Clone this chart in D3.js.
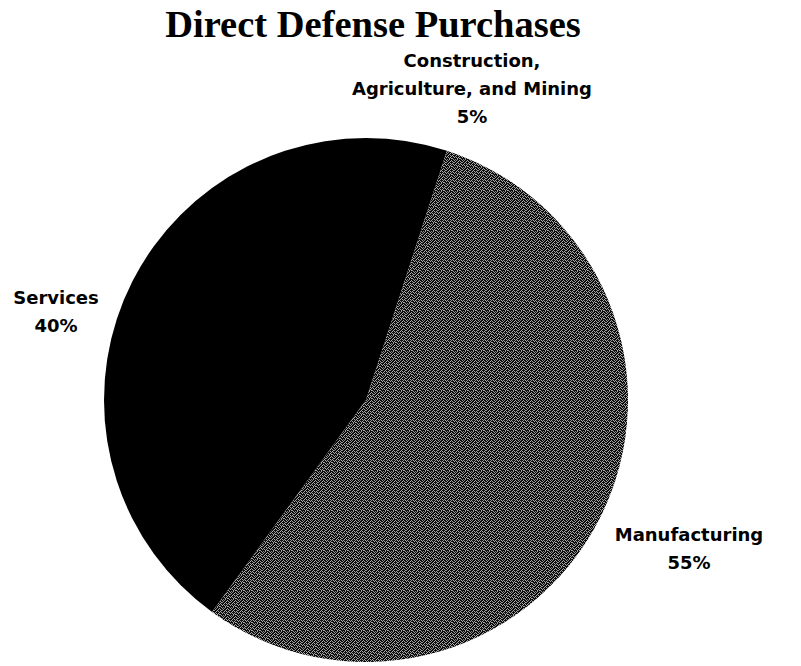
<!DOCTYPE html>
<html>
<head>
<meta charset="utf-8">
<script src="https://cdn.jsdelivr.net/npm/d3@7"></script>
<style>
  html, body { margin: 0; padding: 0; background: #fff; }
  svg { display: block; }
</style>
</head>
<body>
<svg id="chart" width="801" height="666"></svg>
<script>
// ---- data ----
const categories = ["Construction, Agriculture, and Mining", "Manufacturing", "Services"];
const values = [5, 55, 40];
const labelLines = [
  ["Construction,", "Agriculture, and Mining", "5%"],
  ["Manufacturing", "55%"],
  ["Services", "40%"]
];
const title = "Direct Defense Purchases";

// ---- layout ----
const svg = d3.select("#chart");
const cx = 366, cy = 400, r = 262;

// dithered grey texture (style only)
const tile = [
  "10100100",
  "01001010",
  "10010001",
  "00101010",
  "01000101",
  "10101000",
  "00010110",
  "01010001"
];
const defs = svg.append("defs");
const pat = defs.append("pattern")
  .attr("id", "dither")
  .attr("patternUnits", "userSpaceOnUse")
  .attr("width", 8).attr("height", 8);
pat.append("rect").attr("width", 8).attr("height", 8).attr("fill", "#0c0c0c");
const tones = ["#9a9a9a", "#b0b0b0", "#828282", "#a4a4a4"];
tile.forEach((row, y) => row.split("").forEach((c, x) => {
  if (c === "1") pat.append("rect").attr("x", x).attr("y", y)
    .attr("width", 1).attr("height", 1)
    .attr("fill", tones[(x * 3 + y) % tones.length]);
}));

const fills = d3.scaleOrdinal()
  .domain(categories)
  .range(["#000", "url(#dither)", "#000"]);

const pie = d3.pie().sort(null).value(d => d)(values);
const arc = d3.arc().innerRadius(0).outerRadius(r);

const g = svg.append("g").attr("transform", `translate(${cx},${cy})`);
g.selectAll("path")
  .data(pie)
  .join("path")
  .attr("d", arc)
  .attr("fill", (d, i) => fills(categories[i]));

// title
svg.append("text")
  .attr("x", 373).attr("y", 37)
  .attr("text-anchor", "middle")
  .attr("font-family", "'Liberation Serif', 'Times New Roman', serif")
  .attr("font-weight", "bold")
  .attr("font-size", 38.5)
  .text(title);

// labels
const labelPos = [
  { x: 472, y: 67 },
  { x: 689, y: 541 },
  { x: 56, y: 304 }
];
const lineH = 28;
labelLines.forEach((lines, i) => {
  const t = svg.append("text")
    .attr("text-anchor", "middle")
    .attr("font-family", "'DejaVu Sans', Arial, sans-serif")
    .attr("font-weight", "bold")
    .attr("font-size", 18);
  lines.forEach((ln, j) => {
    t.append("tspan")
      .attr("x", labelPos[i].x)
      .attr("y", labelPos[i].y + j * lineH)
      .text(ln);
  });
});
</script>
</body>
</html>
